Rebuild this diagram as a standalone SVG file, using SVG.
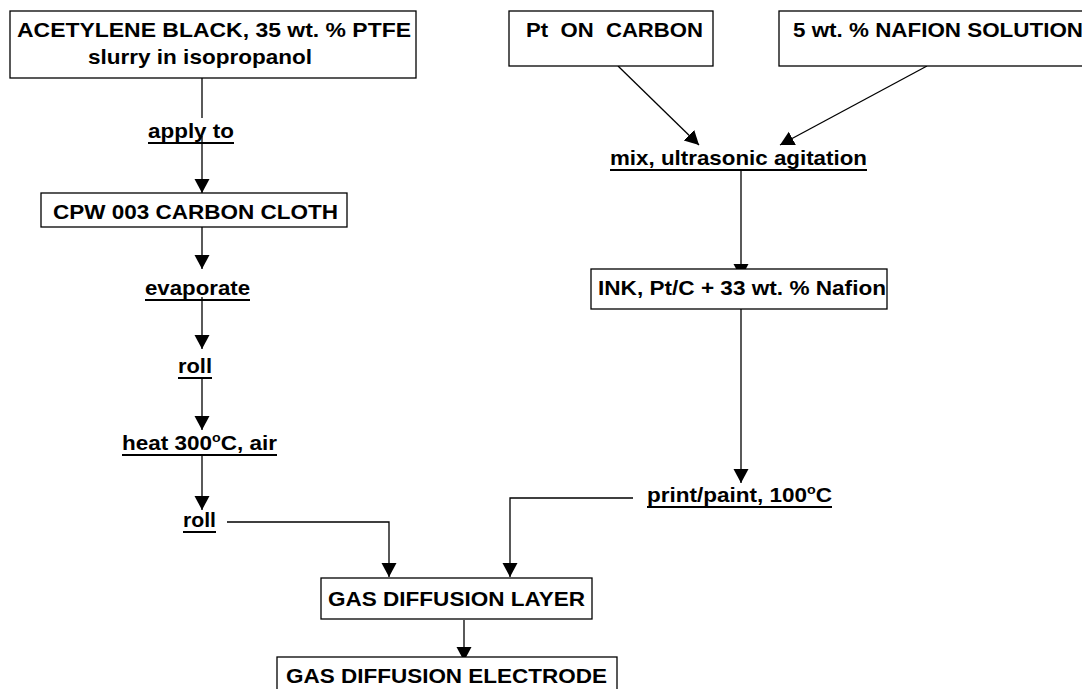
<svg xmlns="http://www.w3.org/2000/svg" width="1082" height="689" viewBox="0 0 1082 689">
<style>
text{font-family:"Liberation Sans",Arial,sans-serif;font-weight:bold;font-size:20.5px;fill:#000}
.box{fill:#fff;stroke:#000;stroke-width:1.3}
.ln{fill:none;stroke:#000;stroke-width:1.3}
.ul{stroke:#000;stroke-width:2}
</style>
<defs>
<marker id="ah" markerUnits="userSpaceOnUse" markerWidth="16" markerHeight="16" refX="14" refY="7.5" orient="auto" viewBox="0 0 16 16">
<path d="M0,0 L14,7.5 L0,15 z" fill="#000"/>
</marker>
</defs>
<rect width="1082" height="689" fill="#fff"/>

<g id="connectors">
<line class="ln" x1="202" y1="78" x2="202" y2="118"/>
<line class="ln" x1="202" y1="136" x2="202" y2="193" marker-end="url(#ah)"/>
<line class="ln" x1="202" y1="227" x2="202" y2="269" marker-end="url(#ah)"/>
<line class="ln" x1="202" y1="297" x2="202" y2="349" marker-end="url(#ah)"/>
<line class="ln" x1="202" y1="378" x2="202" y2="430" marker-end="url(#ah)"/>
<line class="ln" x1="202" y1="455" x2="202" y2="510" marker-end="url(#ah)"/>
<polyline class="ln" points="227,522 389,522 389,577" marker-end="url(#ah)"/>
<polyline class="ln" points="633,498 510,498 510,577" marker-end="url(#ah)"/>
<line class="ln" x1="618" y1="66" x2="699" y2="145" marker-end="url(#ah)"/>
<line class="ln" x1="927" y1="66" x2="780" y2="145" marker-end="url(#ah)"/>
<line class="ln" x1="741" y1="171" x2="741" y2="278" marker-end="url(#ah)"/>
<line class="ln" x1="741" y1="309" x2="741" y2="483" marker-end="url(#ah)"/>
<line class="ln" x1="464" y1="620" x2="464" y2="661" marker-end="url(#ah)"/>
</g>

<g id="acetylene">
<rect class="box" x="10" y="11" width="406" height="67"/>
<text x="17" y="37" textLength="394" lengthAdjust="spacingAndGlyphs">ACETYLENE BLACK, 35 wt. % PTFE</text>
<text x="88" y="64" textLength="224" lengthAdjust="spacingAndGlyphs">slurry in isopropanol</text>
</g>

<g id="apply">
<text x="148" y="138" textLength="86" lengthAdjust="spacingAndGlyphs">apply to</text>
<line class="ul" x1="148" y1="143" x2="234" y2="143"/>
</g>

<g id="cpw">
<rect class="box" x="41" y="193" width="306" height="34"/>
<text x="53" y="219" textLength="285" lengthAdjust="spacingAndGlyphs">CPW 003 CARBON CLOTH</text>
</g>

<g id="evaporate">
<text x="145" y="295" textLength="105" lengthAdjust="spacingAndGlyphs">evaporate</text>
<line class="ul" x1="145" y1="300" x2="250" y2="300"/>
</g>

<g id="roll1">
<text x="178" y="373" textLength="34" lengthAdjust="spacingAndGlyphs">roll</text>
<line class="ul" x1="178" y1="378" x2="212" y2="378"/>
</g>

<g id="heat">
<text x="122" y="450" textLength="155" lengthAdjust="spacingAndGlyphs">heat 300<tspan font-size="13" dy="-8">o</tspan><tspan dy="8">C, air</tspan></text>
<line class="ul" x1="122" y1="455" x2="277" y2="455"/>
</g>

<g id="roll2">
<text x="183" y="527" textLength="33" lengthAdjust="spacingAndGlyphs">roll</text>
<line class="ul" x1="183" y1="532" x2="216" y2="532"/>
</g>

<g id="pt">
<rect class="box" x="509" y="11" width="204" height="55"/>
<text x="526" y="37" textLength="177" lengthAdjust="spacingAndGlyphs" xml:space="preserve">Pt  ON  CARBON</text>
</g>

<g id="nafion">
<rect class="box" x="779" y="11" width="320" height="55"/>
<text x="793" y="37" textLength="290" lengthAdjust="spacingAndGlyphs">5 wt. % NAFION SOLUTION</text>
</g>

<g id="mix">
<text x="610" y="165" textLength="257" lengthAdjust="spacingAndGlyphs">mix, ultrasonic agitation</text>
<line class="ul" x1="610" y1="170" x2="867" y2="170"/>
</g>

<g id="ink">
<rect class="box" x="591" y="269" width="296" height="40"/>
<text x="598" y="295" textLength="288" lengthAdjust="spacingAndGlyphs">INK, Pt/C + 33 wt. % Nafion</text>
</g>

<g id="print">
<text x="647" y="502" textLength="185" lengthAdjust="spacingAndGlyphs">print/paint, 100<tspan font-size="13" dy="-8">o</tspan><tspan dy="8">C</tspan></text>
<line class="ul" x1="647" y1="507" x2="832" y2="507"/>
</g>

<g id="gdl">
<rect class="box" x="321" y="578" width="271" height="41"/>
<text x="328" y="606" textLength="257" lengthAdjust="spacingAndGlyphs">GAS DIFFUSION LAYER</text>
</g>

<g id="gde">
<rect class="box" x="277" y="657" width="340" height="50"/>
<text x="286" y="683" textLength="321" lengthAdjust="spacingAndGlyphs">GAS DIFFUSION ELECTRODE</text>
</g>
</svg>
